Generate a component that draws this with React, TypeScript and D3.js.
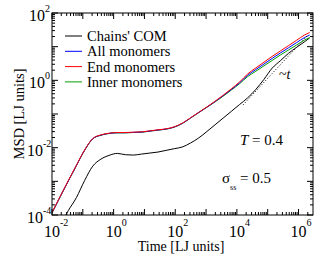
import React from "react";
import * as d3 from "d3";

// time grid [LJ units]
const times = [
  0.01, 0.0184, 0.0338, 0.0622, 0.114, 0.21, 0.387, 0.711, 1.31, 2.4, 4.43,
  8.13, 15.0, 27.5, 50.6, 93.1, 171, 315, 579, 1064, 1960, 3600, 6620, 12200,
  22400, 41200, 75700, 139000, 256000, 471000, 867000, 1.59e6, 2.3e6,
];

const comMSD = [
  null, 5.0e-5, 1.35e-4, 3.31e-4, 1.05e-3, 2.82e-3, 4.57e-3, 5.89e-3, 6.76e-3,
  6.17e-3, 6.03e-3, 6.46e-3, 6.92e-3, 7.41e-3, 8.32e-3, 9.33e-3, 0.0105,
  0.0138, 0.0195, 0.0302, 0.0479, 0.0759, 0.12, 0.191, 0.302, 0.537, 1.07,
  2.29, 3.8, 6.31, 9.55, 14.1, 18.2,
];

const allMSD = [
  1.16e-4, 3.5e-4, 1.03e-3, 2.98e-3, 8.4e-3, 0.0184, 0.0236, 0.0266, 0.0278,
  0.0278, 0.0285, 0.0291, 0.0312, 0.0334, 0.0358, 0.0411, 0.053, 0.0766,
  0.111, 0.16, 0.234, 0.351, 0.537, 0.841, 1.41, 2.09, 3.05, 4.47, 6.46, 9.23,
  13.2, 18.8, 22.1,
];

const endMSD = [
  1.18e-4, 3.55e-4, 1.05e-3, 3.02e-3, 8.5e-3, 0.0186, 0.024, 0.0269, 0.0282,
  0.0282, 0.0288, 0.0295, 0.0316, 0.0339, 0.0363, 0.0417, 0.0537, 0.0776,
  0.112, 0.162, 0.24, 0.363, 0.562, 0.891, 1.55, 2.34, 3.47, 5.13, 7.41, 10.7,
  15.5, 22.4, 26.3,
];

const innerMSD = [
  1.15e-4, 3.47e-4, 1.02e-3, 2.95e-3, 8.3e-3, 0.0182, 0.0234, 0.0263, 0.0275,
  0.0275, 0.0282, 0.0288, 0.0309, 0.0331, 0.0355, 0.0407, 0.0525, 0.0759,
  0.11, 0.158, 0.229, 0.339, 0.513, 0.794, 1.29, 1.86, 2.69, 3.89, 5.62, 7.94,
  11.2, 15.8, 18.6,
];

// ~t guide
const guideT = [15800, 1.9e6];
const guideMSD = [0.186, 20.9];

const seriesNames = ["Chains' COM", "All monomers", "End monomers", "Inner monomers"];
const seriesColors = ["#000000", "#0000ff", "#ff0000", "#00a000"];

const xExps = [-2, -1, 0, 1, 2, 3, 4, 5, 6];
const yExps = [-4, -3, -2, -1, 0, 1, 2];
const xLabelExps = [-2, 0, 2, 4, 6];
const yLabelExps = [-4, -2, 0, 2];

const W = 324;
const H = 261;
const L = 52, R = 313, T = 13, B = 215;

export default function App() {
  const x = d3.scaleLog().domain([1e-2, Math.pow(10, 6.47)]).range([L, R]);
  const y = d3.scaleLog().domain([1e-4, 1e2]).range([B, T]);

  const line = d3
    .line<[number, number | null]>()
    .defined((d) => d[1] != null)
    .x((d) => x(d[0]))
    .y((d) => y(d[1] as number))
    .curve(d3.curveMonotoneX);

  const series = [comMSD, allMSD, endMSD, innerMSD];
  // draw order: black, green, blue, red on top
  const order = [0, 3, 1, 2];

  const minorX: number[] = [];
  xExps.forEach((e) => {
    for (let k = 2; k < 10; k++) {
      const v = k * Math.pow(10, e);
      if (x(v) < R) minorX.push(v);
    }
  });
  const minorY: number[] = [];
  yExps.slice(0, -1).forEach((e) => {
    for (let k = 2; k < 10; k++) minorY.push(k * Math.pow(10, e));
  });

  const font = "'Liberation Serif', 'Times New Roman', serif";

  return (
    <svg
      width={W}
      height={H}
      style={{ position: "absolute", left: 0, top: 0, background: "#fff", fontFamily: font }}
    >
      <defs>
        <clipPath id="plot">
          <rect x={L} y={T} width={R - L} height={B - T} />
        </clipPath>
      </defs>

      <g clipPath="url(#plot)" fill="none">
        {order.map((i) => (
          <path
            key={i}
            d={line(times.map((t, j) => [t, series[i][j]] as [number, number | null])) || ""}
            stroke={seriesColors[i]}
            strokeWidth={1}
          />
        ))}
        <path
          d={line(guideT.map((t, j) => [t, guideMSD[j]] as [number, number])) || ""}
          stroke="#000"
          strokeWidth={1}
          strokeDasharray="1,2"
        />
      </g>

      {/* frame and ticks */}
      <rect x={L} y={T} width={R - L} height={B - T} fill="none" stroke="#000" strokeWidth={1} />
      <g stroke="#000" strokeWidth={1}>
        {xExps.map((e) => {
          const px = x(Math.pow(10, e));
          return (
            <g key={"xm" + e}>
              <line x1={px} x2={px} y1={B} y2={B - 6} />
              <line x1={px} x2={px} y1={T} y2={T + 6} />
            </g>
          );
        })}
        {minorX.map((v, i) => {
          const px = x(v);
          return (
            <g key={"xn" + i}>
              <line x1={px} x2={px} y1={B} y2={B - 3} />
              <line x1={px} x2={px} y1={T} y2={T + 3} />
            </g>
          );
        })}
        {yExps.map((e) => {
          const py = y(Math.pow(10, e));
          return (
            <g key={"ym" + e}>
              <line x1={L} x2={L + 6} y1={py} y2={py} />
              <line x1={R} x2={R - 6} y1={py} y2={py} />
            </g>
          );
        })}
        {minorY.map((v, i) => {
          const py = y(v);
          return (
            <g key={"yn" + i}>
              <line x1={L} x2={L + 3} y1={py} y2={py} />
              <line x1={R} x2={R - 3} y1={py} y2={py} />
            </g>
          );
        })}
      </g>

      {/* tick labels */}
      {xLabelExps.map((e) => {
        const px = x(Math.pow(10, e));
        return (
          <g key={"xl" + e}>
            <text x={px} y={237} fontSize={16} textAnchor="middle">10</text>
            <text x={px + 8} y={226} fontSize={10}>{e < 0 ? "-" + -e : e}</text>
          </g>
        );
      })}
      {yLabelExps.map((e) => {
        const py = y(Math.pow(10, e));
        return (
          <g key={"yl" + e}>
            <text x={e < 0 ? 43 : 45} y={py + 8} fontSize={16} textAnchor="end">10</text>
            <text x={e < 0 ? 43 : 45} y={py - 1} fontSize={10}>{e < 0 ? "-" + -e : e}</text>
          </g>
        );
      })}

      {/* axis titles */}
      <text x={181} y={251} fontSize={14} textAnchor="middle">Time [LJ units]</text>
      <text transform="translate(24,114) rotate(-90)" fontSize={14.5} textAnchor="middle">
        MSD [LJ units]
      </text>

      {/* legend */}
      {seriesNames.map((n, i) => {
        const ry = 36 + i * 15.3;
        return (
          <g key={n}>
            <line x1={65} x2={82} y1={ry} y2={ry} stroke={seriesColors[i]} strokeWidth={1} />
            <text x={87} y={ry + 5} fontSize={14.5}>{n}</text>
          </g>
        );
      })}

      {/* annotations */}
      <text x={279} y={79} fontSize={14}>
        ~<tspan fontStyle="italic">t</tspan>
      </text>
      <text x={240} y={145} fontSize={15}>
        <tspan fontStyle="italic">T</tspan> = 0.4
      </text>
      <text x={222} y={183} fontSize={15}>
        σ<tspan fontSize={8} dy={7}>ss</tspan>
        <tspan dy={-7}> = 0.5</tspan>
      </text>
    </svg>
  );
}
